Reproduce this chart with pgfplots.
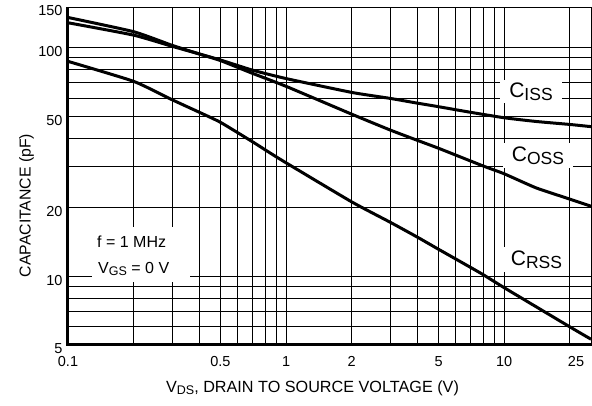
\documentclass[border=0pt]{standalone}
\usepackage{pgfplots}
\pgfplotsset{compat=1.18}
\usepackage{fontspec}
\setmainfont{Liberation Sans}
\newcommand{\lowsub}[3]{{\fontsize{#1}{#1}\selectfont\raisebox{#2}{#3}}}
\begin{document}
\begin{tikzpicture}
\useasboundingbox (-68bp,-61bp) rectangle (524bp,345bp);
\begin{axis}[
  at={(0,0)}, anchor=south west,
  scale only axis, width=523bp, height=338bp,
  xmode=log, ymode=log,
  xmin=0.1, xmax=25, ymin=5, ymax=150,
  clip=false,
  xtick={0.1,0.5,1,2,5,10},
  xticklabels={0.1,0.5,1,2,5,10},
  extra x ticks={25}, extra x tick labels={25},
  extra x tick style={grid=none, xticklabel style={xshift=-15bp}},
  minor xtick={0.2,0.3,0.4,0.6,0.7,0.8,0.9,3,4,6,7,8,9,20},
  ytick={5,10,20,50,100,150},
  yticklabels={5,10,20,50,100,150},
  minor ytick={6,7,8,9,30,40,60,70,80,90},
  grid=both,
  major grid style={black, line width=0.9bp},
  minor grid style={black, line width=0.9bp},
  major tick length=0pt, minor tick length=0pt,
  axis line style={black, line width=0.9bp},
  tick label style={font=\fontsize{14.5bp}{16bp}\selectfont},
  /pgf/number format/assume math mode=true,
  xticklabel style={yshift=-8bp},
  yticklabel style={yshift=-4bp, xshift=-2bp},
  xlabel={V\lowsub{12.5bp}{-2.8bp}{DS}, DRAIN TO SOURCE VOLTAGE (V)},
  ylabel={CAPACITANCE (pF)},
  xlabel style={at={(axis description cs:0.4675,-0.1272)}, anchor=center, font=\fontsize{16.2bp}{18bp}\selectfont},
  ylabel style={at={(axis description cs:-0.0793,0.4127)}, anchor=center, font=\fontsize{15.8bp}{17bp}\selectfont},
]
% C_ISS
\addplot[black, line width=3bp, smooth, tension=0.3] coordinates {
(0.1,128) (0.2,113) (0.3,101) (0.4,93.5) (0.5,88) (0.7,79.5) (1,73) (2,63.5) (3,59.8) (4,57) (5,55) (7,52) (10,49.2) (14,47.4) (20,46) (25,45)};
% C_OSS
\addplot[black, line width=3bp, smooth, tension=0.3] coordinates {
(0.1,135) (0.2,117) (0.3,102) (0.4,93.5) (0.5,87.5) (0.7,77) (1,67.5) (2,51) (3,43.5) (4,39.2) (5,36.2) (8,30.3) (10,28) (14,24.3) (20,21.7) (25,20.2)};
% C_RSS
\addplot[black, line width=3bp, smooth, tension=0.3] coordinates {
(0.1,86.8) (0.2,71) (0.3,59) (0.4,52) (0.5,47) (0.7,38.7) (0.94,32.4) (2,21.1) (3,17.2) (4,14.8) (5,13.1) (7.8,10.3) (10,8.9) (20,6.0) (25,5.3)};
% thick left and bottom frame
\draw[black, line width=3bp] (rel axis cs:0,1) -- (rel axis cs:0,0) -- (rel axis cs:1,0);
% curve labels
\node[fill=white, inner sep=0pt, minimum width=62bp, minimum height=23bp, font=\fontsize{21bp}{22bp}\selectfont] at (rel axis cs:0.8853,0.75) {C\lowsub{17.5bp}{-3.3bp}{ISS}};
\node[fill=white, inner sep=0pt, minimum width=70bp, minimum height=25bp, font=\fontsize{21bp}{22bp}\selectfont] at (rel axis cs:0.8987,0.5607) {C\lowsub{17.5bp}{-3.3bp}{OSS}};
\node[fill=white, inner sep=0pt, minimum width=65bp, minimum height=25bp, font=\fontsize{21bp}{22bp}\selectfont] at (rel axis cs:0.8958,0.253) {C\lowsub{17.5bp}{-3.3bp}{RSS}};
% conditions
\fill[white] (rel axis cs:0.0459,0.1864) rectangle (rel axis cs:0.2333,0.3491);
\node[anchor=west, inner sep=0pt, font=\fontsize{16bp}{18bp}\selectfont] at (rel axis cs:0.0554,0.3056) {f = 1 MHz};
\node[anchor=west, inner sep=0pt, font=\fontsize{16bp}{18bp}\selectfont] at (rel axis cs:0.0574,0.2249) {V\lowsub{12.5bp}{-2.6bp}{GS} = 0 V};
\end{axis}
\end{tikzpicture}
\end{document}
